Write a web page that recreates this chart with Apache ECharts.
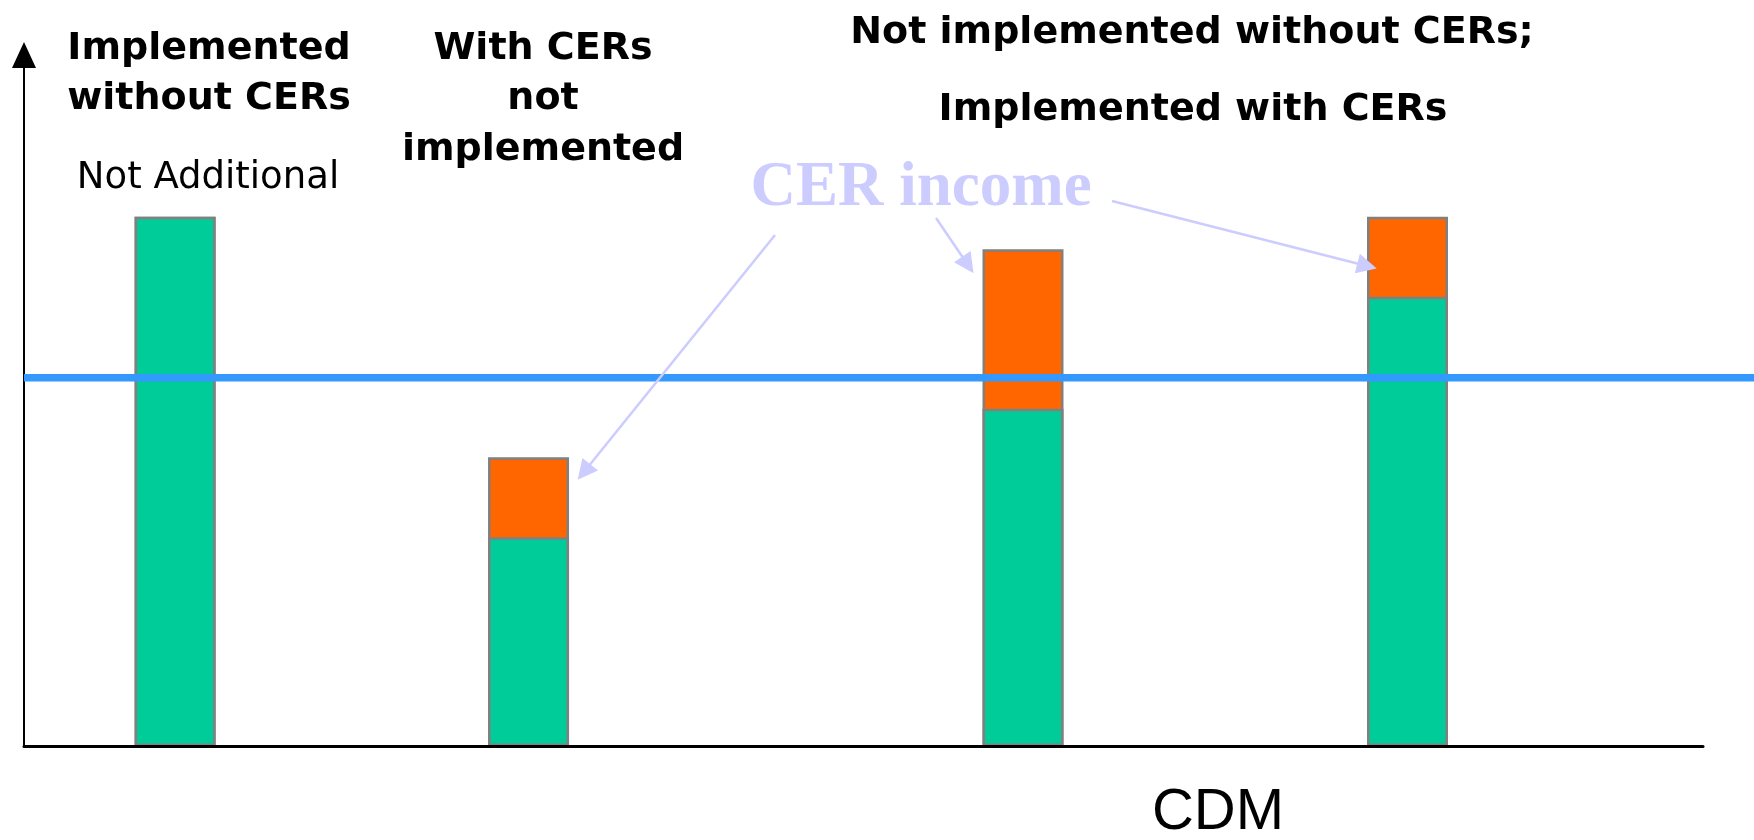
<!DOCTYPE html>
<html>
<head>
<meta charset="utf-8">
<script src="https://cdn.jsdelivr.net/npm/echarts@6/dist/echarts.min.js"></script>
<style>
  html, body { margin: 0; padding: 0; background: #fff; }
  #chart { width: 1754px; height: 840px; }
</style>
</head>
<body>
<div id="chart"></div>
<script>
// project positions on the (hidden) x scale, 0..100
const projectX = [9.0, 30.05, 59.5, 82.4];
// cost without CER income (green) and CER income (orange)
const baseValue = [76.6, 30.2, 48.8, 65.0];
const cerIncome = [0, 11.6, 23.1, 11.6];
// benchmark (blue line)
const benchmark = 53.3;

const totalValue = baseValue.map((v, i) => v + cerIncome[i]);

const chart = echarts.init(document.getElementById("chart"));

const boldFont = "bold 38px 'DejaVu Sans'";

const option = {
  backgroundColor: "#fff",
  animation: false,
  grid: [
    { left: 24, right: 51, top: 55, bottom: 94 },
    { left: 24, right: 0, top: 55, bottom: 94 },
  ],
  xAxis: [
    {
      type: "value",
      min: 0,
      max: 100,
      z: 3,
      axisLine: { show: true, lineStyle: { color: "#000", width: 3 } },
      axisTick: { show: false },
      axisLabel: { show: false },
      splitLine: { show: false },
    },
    {
      type: "value",
      gridIndex: 1,
      min: 0,
      max: 1,
      show: false,
    },
  ],
  yAxis: [
    {
      type: "value",
      min: 0,
      max: 100,
      axisLine: {
        show: true,
        symbol: ["none", "triangle"],
        symbolSize: [24, 26],
        lineStyle: { color: "#000", width: 2 },
      },
      axisTick: { show: false },
      axisLabel: { show: false },
      splitLine: { show: false },
    },
    {
      type: "value",
      gridIndex: 1,
      min: 0,
      max: 100,
      show: false,
    },
  ],
  series: [
    {
      name: "CER income",
      type: "bar",
      barWidth: 81,
      barGap: "-100%",
      data: projectX.map((x, i) => [x, totalValue[i]]),
      itemStyle: { color: "#ff6600", borderColor: "#808080", borderWidth: 2.5 },
      silent: true,
      markLine: {
        silent: true,
        symbol: ["none", "triangle"],
        symbolSize: 20,
        label: { show: false },
        lineStyle: { color: "#ccccff", width: 2.5, type: "solid" },
        data: [
          [{ coord: [44.73, 73.95] }, { coord: [33.35, 39.65] }],
          [{ coord: [54.32, 76.41] }, { coord: [56.22, 69.61] }],
          [{ coord: [64.8, 78.87] }, { coord: [79.99, 69.46] }],
        ],
      },
    },
    {
      name: "Without CERs",
      type: "bar",
      barWidth: 81,
      barGap: "-100%",
      data: projectX.map((x, i) => [x, baseValue[i]]),
      itemStyle: { color: "#00cc99", borderColor: "#808080", borderWidth: 2.5 },
      silent: true,
    },
    {
      name: "Benchmark",
      type: "line",
      xAxisIndex: 1,
      yAxisIndex: 1,
      z: 3,
      showSymbol: false,
      silent: true,
      data: [[0, benchmark], [1, benchmark]],
      lineStyle: { color: "#3399ff", width: 7.5 },
    },
  ],
  graphic: [
    { type: "text", x: 209, y: 49, style: { text: "Implemented", font: boldFont, fill: "#000", align: "center", verticalAlign: "middle" } },
    { type: "text", x: 209, y: 99, style: { text: "without CERs", font: boldFont, fill: "#000", align: "center", verticalAlign: "middle" } },
    { type: "text", x: 208, y: 178, style: { text: "Not Additional", font: "37px 'DejaVu Sans'", fill: "#000", align: "center", verticalAlign: "middle" } },
    { type: "text", x: 543, y: 49, style: { text: "With CERs", font: boldFont, fill: "#000", align: "center", verticalAlign: "middle" } },
    { type: "text", x: 543, y: 99, style: { text: "not", font: boldFont, fill: "#000", align: "center", verticalAlign: "middle" } },
    { type: "text", x: 543, y: 150, style: { text: "implemented", font: boldFont, fill: "#000", align: "center", verticalAlign: "middle" } },
    { type: "text", x: 1192, y: 33, style: { text: "Not implemented without CERs;", font: boldFont, fill: "#000", align: "center", verticalAlign: "middle" } },
    { type: "text", x: 1193, y: 110, style: { text: "Implemented with CERs", font: boldFont, fill: "#000", align: "center", verticalAlign: "middle" } },
    { type: "text", x: 921, y: 189, style: { text: "CER income", font: "bold 63px 'Liberation Serif'", fill: "#ccccff", align: "center", verticalAlign: "middle" } },
    { type: "text", x: 1218, y: 813, style: { text: "CDM", font: "58px 'Liberation Sans'", fill: "#000", align: "center", verticalAlign: "middle" } },
  ],
};

chart.setOption(option);
window.addEventListener("resize", () => {
  chart.resize();
});
</script>
</body>
</html>
